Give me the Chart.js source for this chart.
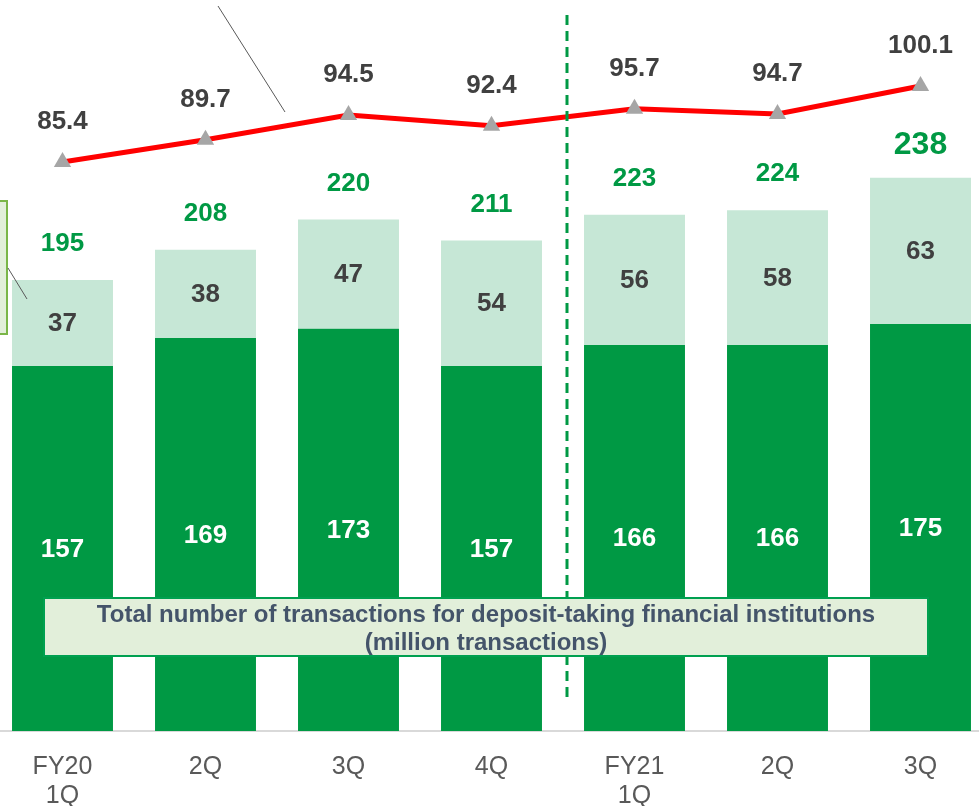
<!DOCTYPE html>
<html>
<head>
<meta charset="utf-8">
<script src="https://cdn.jsdelivr.net/npm/chart.js@4/dist/chart.umd.min.js"></script>
<style>
html,body{margin:0;padding:0;background:#fff;overflow:hidden;}
#wrap{position:absolute;left:-9px;top:0;width:1001px;height:806px;}
</style>
</head>
<body>
<div id="wrap"><canvas id="c" width="1001" height="806"></canvas></div>
<script>
const categories = [['FY20','1Q'], '2Q', '3Q', '4Q', ['FY21','1Q'], '2Q', '3Q'];
const baseValues = [157, 169, 173, 157, 166, 166, 175];
const upperValues = [37, 38, 47, 54, 56, 58, 63];
const totalValues = [195, 208, 220, 211, 223, 224, 238];
const lineValues = [85.4, 89.7, 94.5, 92.4, 95.7, 94.7, 100.1];
const boxLines = ['Total number of transactions for deposit-taking financial institutions', '(million transactions)'];

const FONT = '"Liberation Sans", Arial, sans-serif';

const labelPlugin = {
  id: 'labels',
  afterDatasetsDraw(chart) {
    const ctx = chart.ctx;
    const xs = chart.scales.x, y = chart.scales.y, y1 = chart.scales.y1;
    ctx.save();
    ctx.textAlign = 'center';
    ctx.textBaseline = 'middle';
    categories.forEach((c, i) => {
      const x = xs.getPixelForValue(i);
      const b0 = y.getPixelForValue(0), b1 = y.getPixelForValue(baseValues[i]);
      ctx.font = 'bold 26px ' + FONT;
      ctx.fillStyle = '#ffffff';
      ctx.fillText(String(baseValues[i]), x, (b0 + b1) / 2 + 1);
      const t1 = y.getPixelForValue(baseValues[i] + upperValues[i]);
      ctx.fillStyle = '#404040';
      ctx.fillText(String(upperValues[i]), x, (b1 + t1) / 2 + 1);
      const last = i === categories.length - 1;
      ctx.font = 'bold ' + (last ? 32 : 26) + 'px ' + FONT;
      ctx.fillStyle = '#009944';
      ctx.fillText(String(totalValues[i]), x, t1 - (last ? 32 : 36));
      const ly = y1.getPixelForValue(lineValues[i]);
      ctx.font = 'bold 26px ' + FONT;
      ctx.fillStyle = '#404040';
      ctx.fillText(lineValues[i].toFixed(1), x, ly - 40);
    });
    ctx.restore();
  },
  afterDraw(chart) {
    const ctx = chart.ctx;
    const xs = chart.scales.x;
    ctx.save();
    const dx = (xs.getPixelForValue(3) + xs.getPixelForValue(4)) / 2 + 4;
    ctx.strokeStyle = '#009944';
    ctx.lineWidth = 3;
    ctx.setLineDash([10, 6]);
    ctx.beginPath();
    ctx.moveTo(dx, 15);
    ctx.lineTo(dx, 700);
    ctx.stroke();
    ctx.setLineDash([]);
    const bx = 44 + 9, by = 598, bw = 884, bh = 58;
    ctx.fillStyle = '#e2efda';
    ctx.fillRect(bx, by, bw, bh);
    ctx.strokeStyle = '#00a050';
    ctx.lineWidth = 2;
    ctx.strokeRect(bx, by, bw, bh);
    ctx.fillStyle = '#44546a';
    ctx.font = 'bold 24px ' + FONT;
    ctx.textAlign = 'center';
    ctx.textBaseline = 'middle';
    const cx = 486 + 9;
    ctx.fillText(boxLines[0], cx, 615);
    ctx.fillText(boxLines[1], cx, 643);
    ctx.fillStyle = '#e2efda';
    ctx.fillRect(0, 201, 9 + 7, 133);
    ctx.strokeStyle = '#7ab648';
    ctx.lineWidth = 2;
    ctx.strokeRect(0, 201, 9 + 7, 133);
    ctx.strokeStyle = '#595959';
    ctx.lineWidth = 1;
    ctx.beginPath();
    ctx.moveTo(9 + 8, 268);
    ctx.lineTo(9 + 27, 299);
    ctx.stroke();
    ctx.beginPath();
    ctx.moveTo(9 + 218, 6);
    ctx.lineTo(9 + 285, 112);
    ctx.stroke();
    ctx.restore();
  }
};

new Chart(document.getElementById('c'), {
  type: 'bar',
  data: {
    labels: categories,
    datasets: [
      {
        type: 'line',
        data: lineValues,
        yAxisID: 'y1',
        borderColor: '#ff0000',
        borderWidth: 5,
        pointStyle: 'triangle',
        pointRadius: 10,
        pointBackgroundColor: '#a6a6a6',
        pointBorderColor: '#a6a6a6',
        pointBorderWidth: 0,
        tension: 0,
        order: 0
      },
      {
        data: baseValues,
        backgroundColor: '#009944',
        stack: 's',
        barPercentage: 1,
        categoryPercentage: 0.706,
        order: 1
      },
      {
        data: upperValues,
        backgroundColor: '#c6e7d6',
        stack: 's',
        barPercentage: 1,
        categoryPercentage: 0.706,
        order: 1
      }
    ]
  },
  options: {
    responsive: false,
    animation: false,
    layout: { padding: 0, autoPadding: false },
    plugins: { legend: { display: false }, tooltip: { enabled: false } },
    scales: {
      x: {
        stacked: true,
        grid: { display: false, drawTicks: false },
        border: { display: true, color: '#d9d9d9', width: 2 },
        ticks: {
          color: '#595959',
          font: { family: FONT, size: 25, lineHeight: 1.15 },
          padding: 22,
          maxRotation: 0,
          autoSkip: false
        },
        afterFit(s) { s.height = 75; }
      },
      y: {
        stacked: true,
        display: false,
        min: 0,
        max: 314.4
      },
      y1: {
        display: false,
        min: -24.66,
        max: 116.73
      }
    }
  },
  plugins: [labelPlugin]
});
</script>
</body>
</html>
